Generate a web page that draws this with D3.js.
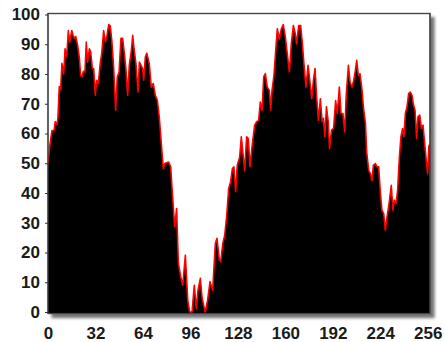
<!DOCTYPE html>
<html>
<head>
<meta charset="utf-8">
<script src="https://cdn.jsdelivr.net/npm/d3@7"></script>
<style>
  body { margin: 0; background: #fff; }
  .tick text { font-family: Arial, "Liberation Sans", sans-serif; font-weight: bold; font-size: 17px; fill: #1a1a1a; }
</style>
</head>
<body>
<div id="chart"></div>
<script>
// sample positions and values
const sampleX = [0,1.4,2.7,4.1,4.9,6.1,6.7,7.6,8.5,9.4,10.6,11.5,12.6,13.7,14.6,16,16.9,17.8,18.7,20,21.1,22,22.9,23.8,24.9,25.8,26.7,27.9,28.8,29.9,30.8,31.9,32.8,33.9,35.3,36.2,37.5,38.7,39.8,40.9,42,43.1,44.3,45.6,46.7,47.9,49.2,50.3,51.5,52.6,53.7,54.8,56.2,57.1,58,59.3,60.7,61.6,62.7,63.8,
  64.5,65.6,66.6,68.3,69.6,71,72.3,73.7,75,76.4,77.7,78.7,81.3,82.7,84,85.4,86.7,87.9,89.5,90.8,92.6,94.2,95.5,97.1,98.6,100,101.1,102.7,103.8,104.9,106,107.6,109.2,111,112.8,113.9,115.5,116.4,117.8,119.1,120.4,121.8,123.1,124.3,125.3,126.5,127.6,
  129.2,130.3,131.4,132.6,133.9,135,136.2,137.5,139.3,140.7,142,143.1,144.3,145.4,146.5,147.8,149.2,150.1,151,152.3,153.5,154.6,155.9,157.3,158.6,160,161.3,162.7,164,165.4,166.7,167.6,169,170.3,171.5,172.6,173.9,175.3,176.6,177.8,178.9,180,181.1,182.3,183.6,184.8,185.7,186.6,187.7,188.9,189.8,191.1,192.5,
  193.9,195,196.4,197.5,198.8,200,201.1,202.5,203.6,204.9,206.1,207.2,208.1,209.2,210.3,211.7,212.6,214,214.8,216.2,217.3,218.4,219.3,220.7,221.8,222.9,224.1,225.1,226.3,227.4,228.5,229.6,230.5,231.4,232.5,233.4,234.6,235.7,236.8,237.9,239,239.9,240.9,242,243.1,244.2,245.4,246.2,247.4,248.5,249.4,250.6,251.7,252.8,253.9,255,255.9,256.8,257.3];
const sampleY = [50,56.6,61,61,64,63,65.3,75.8,74.7,83.6,80,88.5,85.7,94.6,90.7,94.6,93,92,92.6,89.6,85.7,79.5,79,80.9,80.7,90.7,84,88.5,87.4,81.8,81.8,72.9,77.9,76.8,84,86.8,94.6,90.7,93,96.6,96.2,90.7,81.8,67.8,79,80.7,92,92,86.8,81.2,72.9,83,88,93,88.5,83.4,74,84,83,81.8,
  77.9,85.7,87,83.4,75.6,76.8,72.9,71.2,65.6,56.6,48.2,49.9,50.4,48.8,38.7,28.6,34.8,16.3,11.8,9,19.1,4,0,0,9,1.1,7.3,11.3,5.1,2.3,0,4,10.2,7.3,23,24.8,17.5,16.9,23,25.8,32,41.5,43.8,48.2,48.8,40.4,49.4,
  52,58.9,53.3,47.6,58.9,58.3,48.8,55.5,62.8,64,64.4,70.6,67.8,79,80.1,75.6,74.5,67.8,74.5,79.5,87.9,95.2,91.8,95.2,96.6,92.4,86.8,80.7,90.1,96.3,93.5,90.1,96.3,96.3,90.1,82.9,75.6,82.9,77.3,71.7,77.9,81.8,72.3,64.4,71.7,64,65.1,58.9,69,64,55,61.1,61.7,
  71.1,66.7,75.6,66.7,66.7,60.5,73.4,82.9,77.3,75.6,77.9,81.2,84.6,79.5,80.1,74.5,68.9,63.4,53.8,47.6,46.5,44.2,49.3,49.9,48.8,48.8,39.8,34.2,33.1,27.5,31.9,35.3,38.7,42.6,34.2,37.6,36.5,41,51.6,58.9,61.7,58.9,66.7,68.9,73.4,73.9,72.8,70,67.8,58.3,65.6,66.2,61.7,62.8,56.6,51,46.5,56,56];

const xTicks = [0, 32, 64, 96, 128, 160, 192, 224, 256];
const yTicks = [0, 10, 20, 30, 40, 50, 60, 70, 80, 90, 100];

const W = 445, H = 342;
const margin = { left: 48, right: 430, top: 13.5, bottom: 313.5 };

const svg = d3.select("#chart").append("svg")
  .attr("width", W).attr("height", H);

const defs = svg.append("defs");
const shadow = defs.append("filter").attr("id", "shadow")
  .attr("x", "-5%").attr("y", "-5%").attr("width", "115%").attr("height", "115%");
shadow.append("feDropShadow")
  .attr("dx", 4).attr("dy", 4).attr("stdDeviation", 1.6)
  .attr("flood-color", "#000").attr("flood-opacity", 0.55);
defs.append("clipPath").attr("id", "clip").append("rect")
  .attr("x", margin.left).attr("y", margin.top)
  .attr("width", margin.right - margin.left).attr("height", margin.bottom - margin.top);

const x = d3.scaleLinear().domain([0, 257.5]).range([margin.left, margin.right]);
const y = d3.scaleLinear().domain([0, 100]).range([312, 14.5]);

const pts = sampleX.map((v, i) => [v, sampleY[i]]);

// plot frame with drop shadow
svg.append("rect")
  .attr("x", margin.left).attr("y", margin.top)
  .attr("width", margin.right - margin.left).attr("height", margin.bottom - margin.top)
  .attr("fill", "#fff").attr("stroke", "#444").attr("stroke-width", 1.2)
  .attr("filter", "url(#shadow)");

const plot = svg.append("g").attr("clip-path", "url(#clip)");

const area = d3.area()
  .x(d => x(d[0]))
  .y0(margin.bottom)
  .y1(d => y(d[1]));

const line = d3.line()
  .x(d => x(d[0]))
  .y(d => y(d[1]));

plot.append("path").datum(pts)
  .attr("d", area)
  .attr("fill", "#000");

plot.append("path").datum(pts)
  .attr("d", line)
  .attr("fill", "none")
  .attr("stroke", "#f00")
  .attr("stroke-width", 1.6)
  .attr("stroke-linejoin", "round");

// redraw frame edge over the fill
svg.append("rect")
  .attr("x", margin.left).attr("y", margin.top)
  .attr("width", margin.right - margin.left).attr("height", margin.bottom - margin.top)
  .attr("fill", "none").attr("stroke", "#444").attr("stroke-width", 1.2);

const yAxis = svg.append("g")
  .attr("transform", "translate(" + margin.left + ",0)")
  .call(d3.axisLeft(y).tickValues(yTicks).tickSize(3).tickSizeOuter(0).tickPadding(5));
yAxis.select(".domain").remove();
yAxis.selectAll("line").attr("stroke", "#333");

const xAxis = svg.append("g")
  .attr("transform", "translate(0," + margin.bottom + ")")
  .call(d3.axisBottom(x).tickValues(xTicks).tickSize(0).tickPadding(13));
xAxis.select(".domain").remove();
</script>
</body>
</html>
